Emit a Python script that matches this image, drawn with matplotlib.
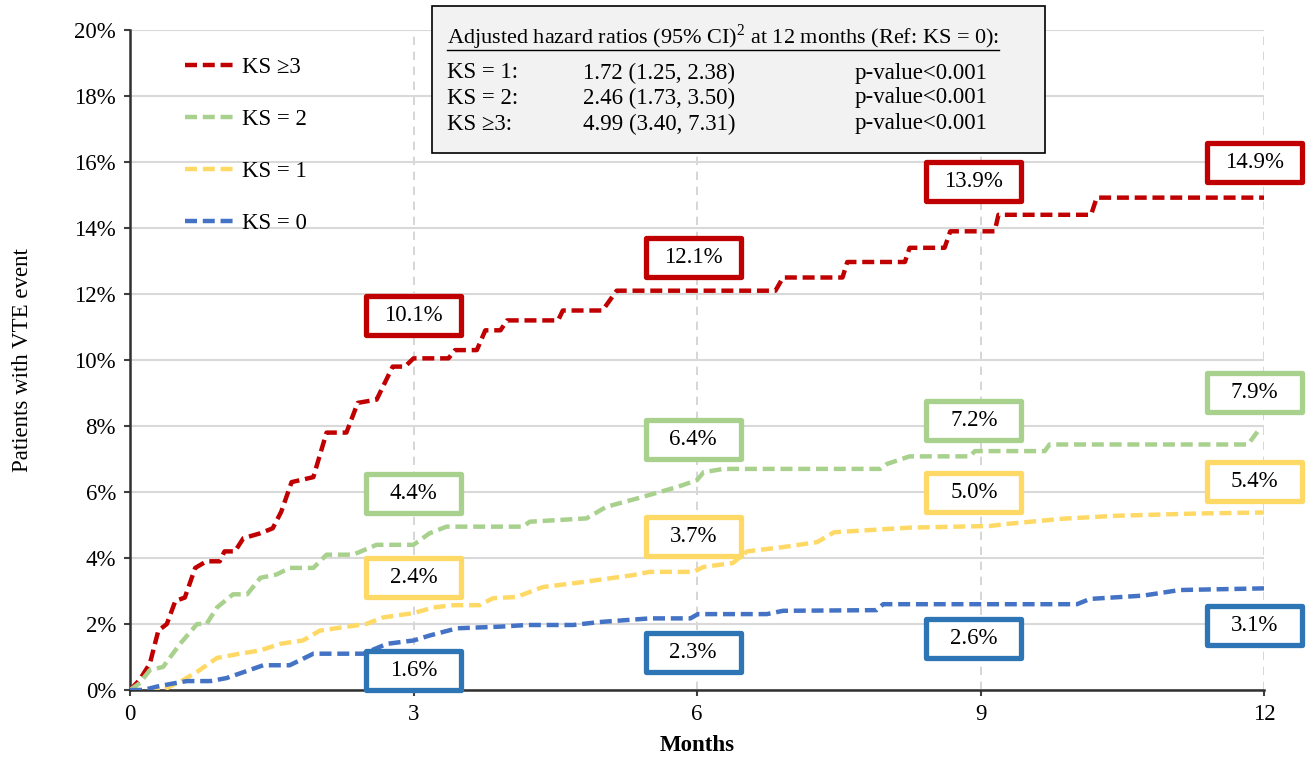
import numpy as np
import matplotlib
matplotlib.use('Agg')
import matplotlib.pyplot as plt
from matplotlib.patches import Rectangle
from matplotlib.lines import Line2D

plt.rcParams['font.family'] = ['Liberation Serif', 'DejaVu Serif']
plt.rcParams['mathtext.fontset'] = 'custom'
plt.rcParams['mathtext.rm'] = 'Liberation Serif'

# cumulative incidence (months, %)
t_ks3 = [0, 0.1, 0.21, 0.3, 0.39, 0.48, 0.58, 0.69, 0.81, 0.95, 1.0, 1.11, 1.2, 1.38, 1.51, 1.6, 1.71, 1.94, 2.08, 2.29,
         2.41, 2.61, 2.78, 2.91, 3.0, 3.37, 3.44, 3.67, 3.76, 3.92, 3.99, 4.53, 4.58, 5.0, 5.15, 6.83, 6.91, 7.54, 7.59, 8.2,
         8.25, 8.62, 8.68, 9.15, 9.19, 10.17, 10.23, 12.0]
v_ks3 = [0, 0.3, 0.8, 1.8, 2.0, 2.7, 2.8, 3.7, 3.9, 3.9, 4.2, 4.2, 4.6, 4.75, 4.9, 5.4, 6.3, 6.45, 7.8, 7.8,
         8.7, 8.8, 9.8, 9.8, 10.05, 10.05, 10.3, 10.3, 10.9, 10.9, 11.2, 11.2, 11.5, 11.5, 12.1, 12.1, 12.5, 12.5, 12.97, 12.97,
         13.4, 13.4, 13.9, 13.9, 14.4, 14.4, 14.92, 14.92]

t_ks2 = [0, 0.1, 0.21, 0.35, 0.53, 0.71, 0.81, 0.92, 1.09, 1.24, 1.38, 1.55, 1.69, 1.94, 2.08, 2.36, 2.61, 3.0, 3.17, 3.35,
         4.16, 4.23, 4.83, 5.04, 5.36, 5.79, 6.0, 6.07, 6.28, 7.94, 8.01, 8.25, 8.89, 8.94, 9.68, 9.73, 11.83, 11.95]
v_ks2 = [0, 0.2, 0.6, 0.7, 1.4, 2.0, 2.0, 2.5, 2.9, 2.9, 3.4, 3.5, 3.7, 3.7, 4.1, 4.1, 4.4, 4.4, 4.75, 4.95,
         4.95, 5.1, 5.2, 5.55, 5.8, 6.15, 6.36, 6.6, 6.7, 6.7, 6.85, 7.08, 7.08, 7.24, 7.24, 7.44, 7.44, 7.9]

t_ks1 = [0, 0.35, 0.56, 0.71, 0.92, 1.16, 1.38, 1.59, 1.83, 2.01, 2.25, 2.5, 2.68, 3.0, 3.21, 3.42, 3.7, 3.84, 4.09, 4.37,
         4.79, 5.32, 5.5, 5.96, 6.07, 6.38, 6.53, 6.91, 7.27, 7.45, 7.62, 8.25, 9.1, 9.27, 9.87, 10.44, 11.32, 12.0]
v_ks1 = [0, 0, 0.3, 0.55, 0.97, 1.1, 1.2, 1.4, 1.5, 1.8, 1.9, 2.0, 2.2, 2.33, 2.5, 2.57, 2.57, 2.78, 2.82, 3.12,
         3.27, 3.48, 3.58, 3.58, 3.73, 3.85, 4.2, 4.33, 4.48, 4.78, 4.81, 4.92, 4.97, 5.03, 5.19, 5.28, 5.35, 5.38]

t_ks0 = [0, 0.14, 0.28, 0.46, 0.6, 0.85, 1.02, 1.16, 1.41, 1.69, 1.94, 2.47, 2.72, 3.0, 3.17, 3.46, 3.92, 4.2, 4.69, 4.97,
         5.5, 5.93, 6.01, 6.74, 6.91, 7.9, 7.97, 10.02, 10.16, 10.72, 11.11, 12.0]
v_ks0 = [0, 0, 0.1, 0.2, 0.27, 0.27, 0.36, 0.5, 0.75, 0.75, 1.1, 1.1, 1.4, 1.5, 1.65, 1.87, 1.92, 1.97, 1.97, 2.06,
         2.17, 2.17, 2.3, 2.3, 2.4, 2.42, 2.6, 2.6, 2.76, 2.86, 3.03, 3.08]

series_names = ['KS \u22653', 'KS = 2', 'KS = 1', 'KS = 0']
colors = ['#C00000', '#A9D18E', '#FFD966', '#4472C4']
box_colors = ['#C00000', '#A9D18E', '#FFD966', '#2E75B6']

# labelled values at 3, 6, 9, 12 months
lab_ks3 = ['10.1%', '12.1%', '13.9%', '14.9%']
lab_ks2 = ['4.4%', '6.4%', '7.2%', '7.9%']
lab_ks1 = ['2.4%', '3.7%', '5.0%', '5.4%']
lab_ks0 = ['1.6%', '2.3%', '2.6%', '3.1%']

# label box centres
box_x = [3.0, 5.96, 8.93, 11.9]
box_y_ks3 = [11.36, 13.1, 15.4, 16.0]
box_y_ks2 = [5.94, 7.58, 8.18, 9.03]
box_y_ks1 = [3.42, 4.64, 5.97, 6.33]
box_y_ks0 = [0.58, 1.15, 1.55, 1.94]

hr_rows = ['KS = 1:', 'KS = 2:', 'KS \u22653:']
hr_vals = ['1.72 (1.25, 2.38)', '2.46 (1.73, 3.50)', '4.99 (3.40, 7.31)']
hr_p = ['p-value<0.001', 'p-value<0.001', 'p-value<0.001']

FS = 16.5
W, H = 1311, 759
fig = plt.figure(figsize=(W / 100, H / 100), dpi=100)
ax = fig.add_axes([130 / W, 1 - 690 / H, (1264 - 130) / W, (690 - 30) / H])

ts = [t_ks3, t_ks2, t_ks1, t_ks0]
vs = [v_ks3, v_ks2, v_ks1, v_ks0]
for t, v, c, name in zip(ts, vs, colors, series_names):
    ax.plot(t, v, color=c, lw=3.2, dashes=(2.7, 1.3), label=name, zorder=3)

ax.set_xlim(0, 12)
ax.set_ylim(0, 20)
ax.set_xticks([0, 3, 6, 9, 12])
ax.set_yticks(np.arange(0, 21, 2))
ax.set_yticklabels([f'{y}%' for y in range(0, 21, 2)])
ax.tick_params(labelsize=FS, length=4, width=1.5, color='#404040', pad=6)
ax.yaxis.grid(True, color='#D9D9D9', lw=1.5)
ax.xaxis.grid(True, color='#D0D0D0', lw=1.2, ls=(0, (5, 4)))
ax.set_axisbelow(True)
for s in ['top', 'right']:
    ax.spines[s].set_visible(False)
for s in ['left', 'bottom']:
    ax.spines[s].set_linewidth(1.8)
    ax.spines[s].set_color('#303030')

ax.set_ylabel('Patients with VTE event', fontsize=FS, labelpad=30)
ax.set_xlabel('Months', fontsize=FS, fontweight='bold', labelpad=7)

# value boxes
bw = 95 / 94.5
bh = 39 / 33
labs = [lab_ks3, lab_ks2, lab_ks1, lab_ks0]
bys = [box_y_ks3, box_y_ks2, box_y_ks1, box_y_ks0]
for lab, by, bc in zip(labs, bys, box_colors):
    for x, y, s in zip(box_x, by, lab):
        ax.add_patch(Rectangle((x - bw / 2, y - bh / 2), bw, bh, facecolor='white', edgecolor=bc,
                               lw=3.8, zorder=5, clip_on=False, joinstyle='round'))
        ax.text(x, y, s, ha='center', va='center', fontsize=FS, zorder=6)

leg = ax.legend(loc='upper left', bbox_to_anchor=(185 / W, 1 - 57 / H), bbox_transform=fig.transFigure,
                frameon=False, fontsize=FS, handlelength=2.1, handletextpad=0.4, labelspacing=1.35,
                borderpad=0, borderaxespad=0)

# hazard ratio box
fig.patches.append(Rectangle((432 / W, 1 - 153 / H), (1045 - 432) / W, (153 - 6) / H, transform=fig.transFigure,
                             facecolor='#F2F2F2', edgecolor='black', lw=1.2, zorder=7))
title = fig.text(447 / W, 1 - 37 / H, 'Adjusted hazard ratios (95% CI)$^{2}$ at 12 months (Ref: KS = 0):',
                 fontsize=16, va='center', ha='left', zorder=8)
row_y = [73, 98, 124]
for r, v, p, y in zip(hr_rows, hr_vals, hr_p, row_y):
    fig.text(447 / W, 1 - y / H, r, fontsize=FS, va='center', zorder=8)
    fig.text(583 / W, 1 - y / H, v, fontsize=FS, va='center', zorder=8)
    fig.text(855 / W, 1 - y / H, p, fontsize=FS, va='center', zorder=8)

fig.canvas.draw()
bb = title.get_window_extent()
fig.lines.append(Line2D([bb.x0 / W, bb.x1 / W], [1 - 50 / H, 1 - 50 / H], transform=fig.transFigure,
                        color='black', lw=1.0, zorder=8))

fig.savefig('out.png', dpi=100)
